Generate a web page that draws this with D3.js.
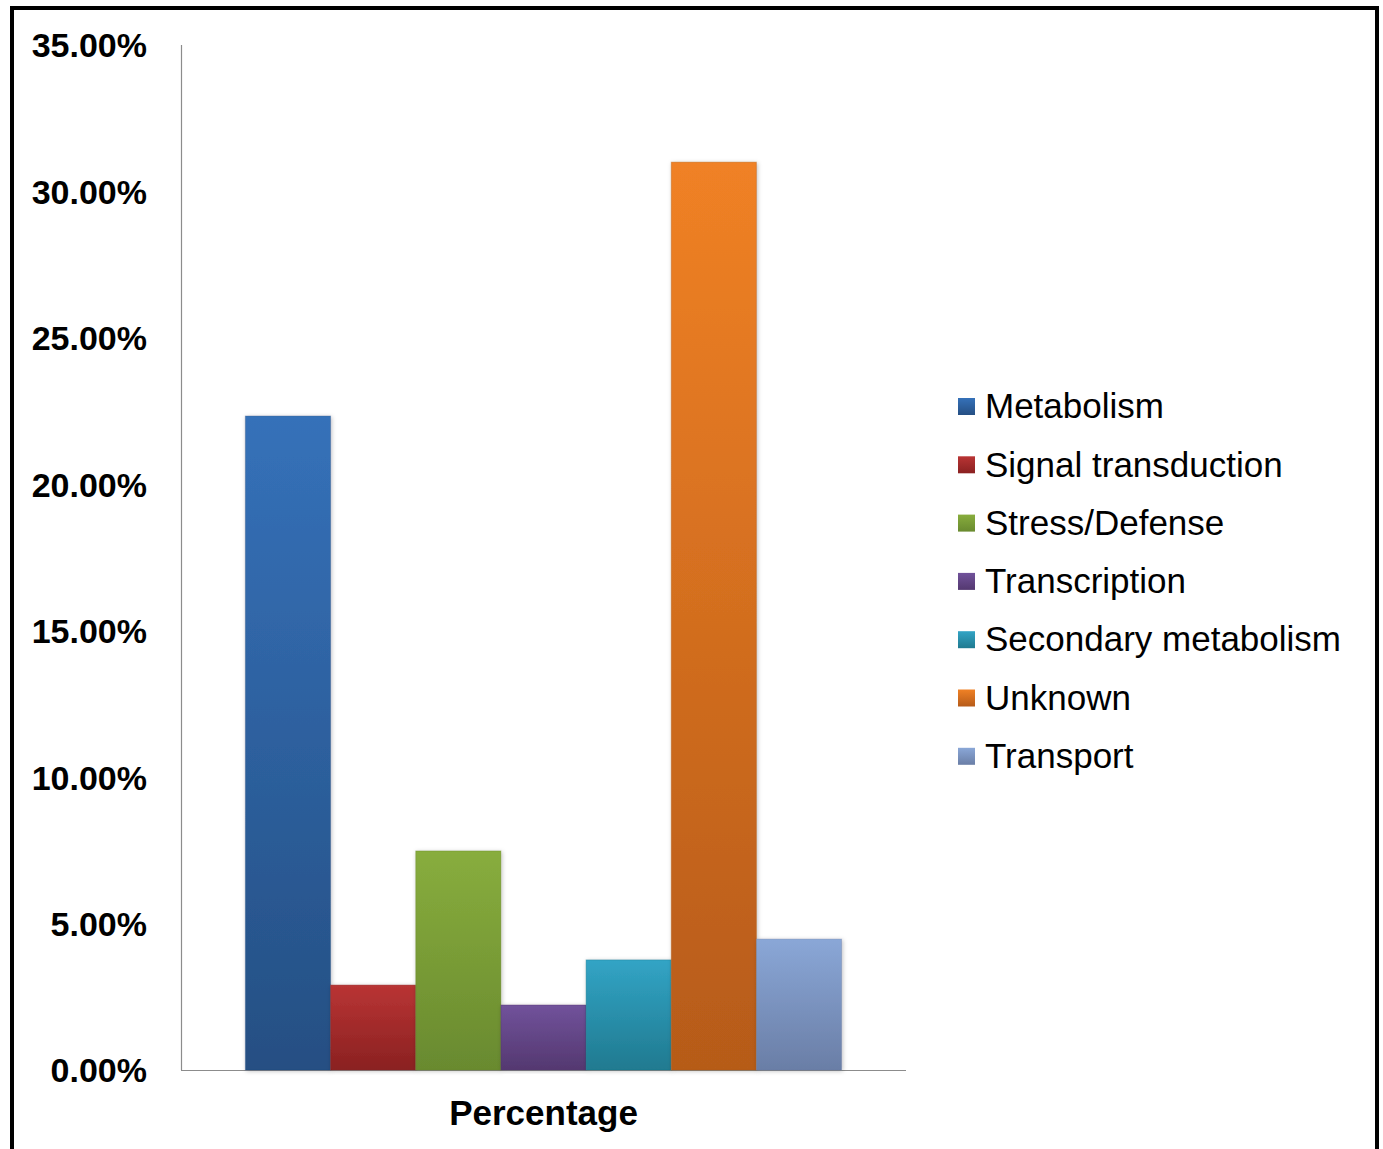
<!DOCTYPE html>
<html>
<head>
<meta charset="utf-8">
<script src="https://cdn.jsdelivr.net/npm/d3@7"></script>
<style>
  html, body { margin: 0; padding: 0; background: #fff; }
  svg { display: block; }
</style>
</head>
<body>
<svg id="chart" width="1383" height="1149"></svg>
<script>
// Functional categories and their share of the gene set
const categories = ["Metabolism", "Signal transduction", "Stress/Defense", "Transcription",
                    "Secondary metabolism", "Unknown", "Transport"];
const values = [0.2233, 0.029, 0.0748, 0.0222, 0.0376, 0.310, 0.0447];
const yTicks = [0, 0.05, 0.10, 0.15, 0.20, 0.25, 0.30, 0.35];
const groupLabel = "Percentage";
// Gradient stops (top, bottom) for each category
const topColors = ["#3571b9", "#b93434", "#88ad3d", "#71529b", "#32a4c5", "#f08125", "#8aa7d7"];
const bottomColors = ["#254f83", "#8a2121", "#698a2f", "#543870", "#207a90", "#b65b19", "#6a7ea6"];

const svg = d3.select("#chart");

// outer frame
svg.append("rect")
  .attr("x", 12).attr("y", 8).attr("width", 1365).attr("height", 1160)
  .attr("fill", "none").attr("stroke", "#000").attr("stroke-width", 4);

const defs = svg.append("defs");
categories.forEach((c, i) => {
  const g = defs.append("linearGradient").attr("id", "grad" + i)
    .attr("x1", 0).attr("y1", 0).attr("x2", 0).attr("y2", 1);
  g.append("stop").attr("offset", "0%").attr("stop-color", topColors[i]);
  g.append("stop").attr("offset", "100%").attr("stop-color", bottomColors[i]);
});
const shadow = defs.append("filter").attr("id", "shadow")
  .attr("x", "-20%").attr("y", "-5%").attr("width", "140%").attr("height", "110%");
shadow.append("feDropShadow").attr("dx", 1).attr("dy", 1).attr("stdDeviation", 2)
  .attr("flood-color", "#000").attr("flood-opacity", 0.25);

const plotLeft = 181, plotRight = 906, plotTop = 45, plotBottom = 1070;
const fontFamily = "'Liberation Sans', Arial, sans-serif";

const y = d3.scaleLinear().domain([0, 0.35]).range([plotBottom, plotTop]);
const outer = d3.scaleBand().domain([groupLabel]).range([plotLeft, plotRight])
  .paddingInner(0).paddingOuter(0.108);
const x = d3.scaleBand().domain(categories)
  .range([outer(groupLabel), outer(groupLabel) + outer.bandwidth()]).padding(0);

// y axis labels
const yAxis = d3.axisLeft(y).tickValues(yTicks).tickSize(0).tickPadding(34)
  .tickFormat(d => (d * 100).toFixed(2) + "%");
const gy = svg.append("g").attr("transform", `translate(${plotLeft},0)`).call(yAxis);
gy.select(".domain").remove();
gy.selectAll("text")
  .attr("font-family", fontFamily)
  .attr("font-weight", "bold").attr("font-size", 34).attr("fill", "#000")
  .attr("dy", "0.35em");

// axis lines
svg.append("line").attr("x1", plotLeft + 0.5).attr("x2", plotLeft + 0.5)
  .attr("y1", plotTop).attr("y2", plotBottom).attr("stroke", "#8c8c8c").attr("stroke-width", 1.2);
svg.append("line").attr("x1", plotLeft).attr("x2", plotRight)
  .attr("y1", plotBottom + 0.5).attr("y2", plotBottom + 0.5).attr("stroke", "#8c8c8c").attr("stroke-width", 1.2);

// bars
svg.append("g").selectAll("rect").data(values).join("rect")
  .attr("x", (d, i) => x(categories[i]))
  .attr("y", d => y(d))
  .attr("width", x.bandwidth())
  .attr("height", d => y(0) - y(d))
  .attr("fill", (d, i) => `url(#grad${i})`)
  .attr("stroke", (d, i) => d3.color(bottomColors[i]).darker(0.2))
  .attr("stroke-opacity", 0.35)
  .attr("stroke-width", 1)
  .attr("filter", "url(#shadow)");

// category axis label
svg.append("text").attr("x", outer(groupLabel) + outer.bandwidth() / 2) .attr("y", 1125)
  .attr("text-anchor", "middle")
  .attr("font-family", fontFamily)
  .attr("font-weight", "bold").attr("font-size", 35).attr("fill", "#000")
  .text(groupLabel);

// legend
const legend = svg.append("g").attr("transform", "translate(958,406)");
const rowH = 58.3;
const items = legend.selectAll("g").data(categories).join("g")
  .attr("transform", (d, i) => `translate(0,${i * rowH})`);
items.append("rect").attr("x", 0).attr("y", -8).attr("width", 17).attr("height", 17)
  .attr("fill", (d, i) => `url(#grad${i})`);
items.append("text").attr("x", 27).attr("y", 0).attr("dy", "0.35em")
  .attr("font-family", fontFamily)
  .attr("font-size", 35).attr("fill", "#000")
  .text(d => d);
</script>
</body>
</html>
